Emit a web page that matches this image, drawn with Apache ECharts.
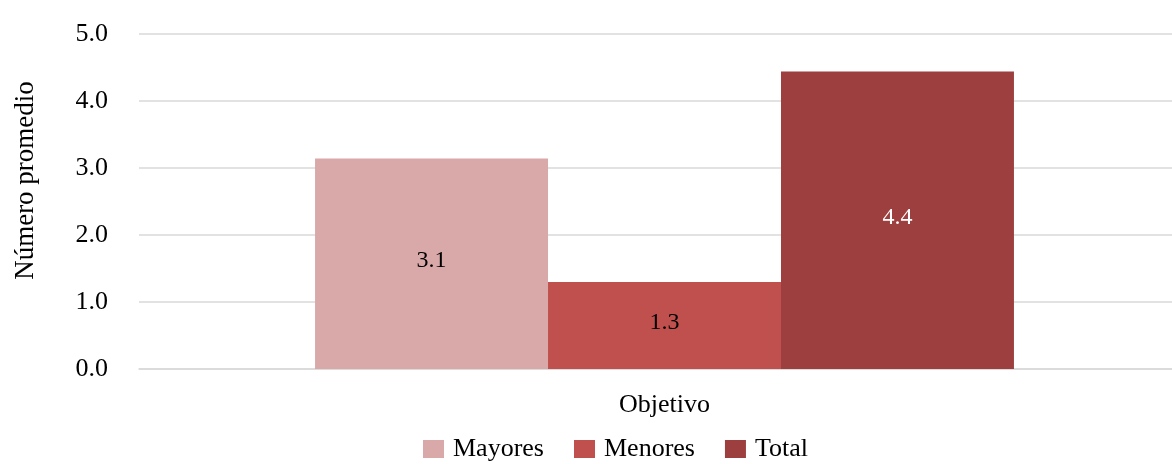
<!DOCTYPE html>
<html><head><meta charset="utf-8">
<script src="https://cdn.jsdelivr.net/npm/echarts@6/dist/echarts.min.js"></script>
<style>html,body{margin:0;padding:0;background:#fff}#c{width:1172px;height:464px}</style>
</head><body><div id="c"></div>
<script>
const categories = ['Objetivo'];
const seriesNames = ['Mayores', 'Menores', 'Total'];
const mayores = [3.14];
const menores = [1.30];
const total = [4.44];
const yTicks = {min: 0, max: 5, interval: 1};

const FONT = '"Liberation Serif", "DejaVu Serif", serif';
const colors = ['#D9A9AA', '#C0504D', '#9E3F3F'];
const labelColors = ['#000', '#000', '#fff'];
const values = [mayores, menores, total];

const chart = echarts.init(document.getElementById('c'));
chart.setOption({
  animation: false,
  textStyle: {fontFamily: FONT},
  grid: {left: 139, right: -18, top: 34, bottom: 95, containLabel: false, outerBoundsMode: 'none'},
  legend: {
    top: 431, left: 418, itemWidth: 21, itemHeight: 18, itemGap: 30,
    icon: 'rect',
    textStyle: {fontFamily: FONT, fontSize: 26, color: '#000', padding: [0, 0, 0, 4]},
    data: seriesNames
  },
  xAxis: {
    type: 'category', data: categories,
    axisLine: {lineStyle: {color: '#d9d9d9', width: 1.5}},
    axisTick: {show: false},
    axisLabel: {fontFamily: FONT, fontSize: 26, color: '#000', margin: 23}
  },
  yAxis: {
    type: 'value', min: yTicks.min, max: yTicks.max, interval: yTicks.interval,
    name: 'Número promedio', nameLocation: 'middle', nameGap: 100, nameRotate: 90,
    nameTextStyle: {fontFamily: FONT, fontSize: 27, color: '#000', padding: [0, 0, 0, 42]},
    axisLine: {show: false}, axisTick: {show: false},
    axisLabel: {fontFamily: FONT, fontSize: 26, color: '#000', margin: 31,
      formatter: v => v.toFixed(1)},
    splitLine: {lineStyle: {color: '#d9d9d9', width: 1.5}}
  },
  series: seriesNames.map((n, i) => ({
    name: n, type: 'bar', data: values[i],
    barGap: '0%', barCategoryGap: '33.5%',
    itemStyle: {color: colors[i]},
    label: {show: true, position: 'inside', offset: [0, -3], fontFamily: FONT, fontSize: 24,
      color: labelColors[i], formatter: p => p.value.toFixed(1)}
  }))
});
</script></body></html>
